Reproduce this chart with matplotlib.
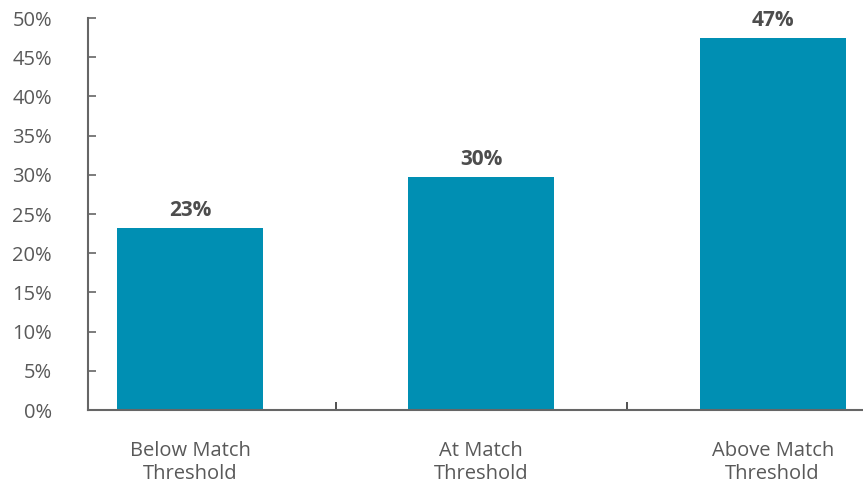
import matplotlib
matplotlib.use("Agg")
import matplotlib.pyplot as plt
from matplotlib.ticker import FixedLocator, PercentFormatter

categories = ["Below Match\nThreshold", "At Match\nThreshold", "Above Match\nThreshold"]
values = [23.2, 29.7, 47.5]
value_labels = ["23%", "30%", "47%"]
yticks = [0, 5, 10, 15, 20, 25, 30, 35, 40, 45, 50]

bar_color = "#008FB3"
axis_color = "#666666"
text_color = "#595959"
label_color = "#4d4d4d"

plt.rcParams['font.family'] = ['Open Sans', 'DejaVu Sans']

fig = plt.figure(figsize=(8.63, 4.83), dpi=100)
W, H = 863, 483
ax = fig.add_axes([88 / W, (H - 410) / H, (863 - 88) / W, (410 - 18) / H])

x = list(range(len(categories)))
ax.bar(x, values, width=0.5, color=bar_color, zorder=2)
ax.set_xlim(-0.35, 2.31)
ax.set_ylim(0, 50)

for xi, v, lab in zip(x, values, value_labels):
    ax.annotate(lab, (xi, v), xytext=(0, 5), textcoords="offset points",
                ha="center", va="bottom", fontsize=15, fontweight="bold",
                color=label_color)

ax.set_yticks(yticks)
ax.yaxis.set_major_formatter(PercentFormatter(decimals=0))
ax.set_xticks(x)
ax.set_xticklabels(categories, linespacing=1.25)
ax.xaxis.set_minor_locator(FixedLocator([0.5, 1.5]))

for s in ["top", "right"]:
    ax.spines[s].set_visible(False)
for s in ["left", "bottom"]:
    ax.spines[s].set_color(axis_color)
    ax.spines[s].set_linewidth(1.5)
    ax.spines[s].set_zorder(3)

ax.tick_params(axis="y", direction="in", length=6, width=1.2, color=axis_color,
               labelsize=14.5, labelcolor=text_color, pad=26)
ax.tick_params(axis="x", which="major", length=0, labelsize=14.5,
               labelcolor=text_color, pad=22)
ax.tick_params(axis="x", which="minor", direction="in", length=6, width=1.2,
               color="#333333")

fig.savefig("out.png", dpi=100)
